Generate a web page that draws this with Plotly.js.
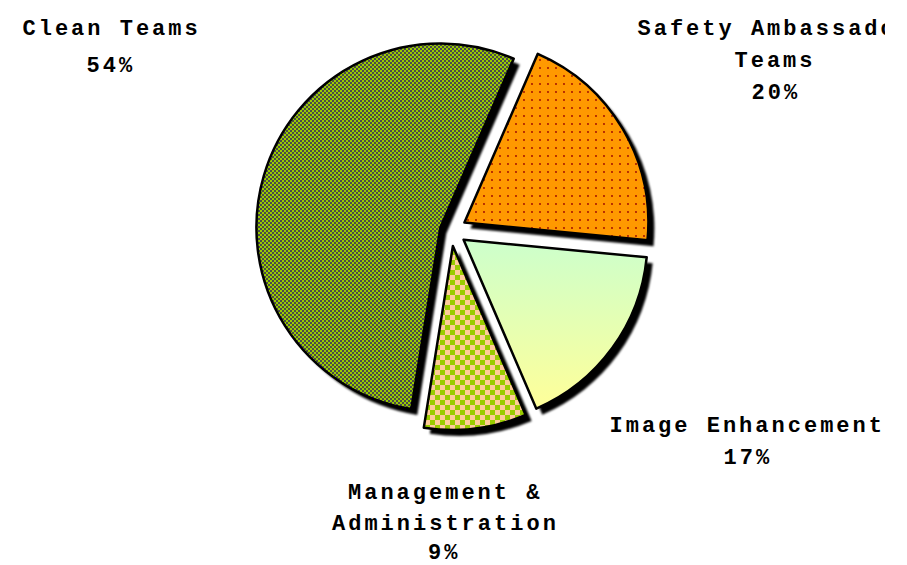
<!DOCTYPE html>
<html><head><meta charset="utf-8">
<script src="https://cdn.plot.ly/plotly-3.0.1.min.js"></script>
<style>
html,body{margin:0;padding:0;background:#fff;}
#chart{width:885px;height:565px;overflow:hidden;}
#chart text.annotation-text{letter-spacing:3px;}
</style></head><body><div id="chart"></div>
<script>
// ---- data ----
const categories = ['Safety Ambassador Teams', 'Image Enhancement', 'Management & Administration', 'Clean Teams'];
const labelLines = [['Safety Ambassador', 'Teams'], ['Image Enhancement'], ['Management &', 'Administration'], ['Clean Teams']];
const shares = [20, 17, 9, 54];

// ---- styles ----
const baseColors = ['#FF9900', '#E6FFB3', '#FFCC99', '#99CC00'];
const patShapes = ['.', '', 'x', 'x'];
const patFg = ['#990000', '#000000', '#99CC00', '#4a4a4a'];
const patBg = ['#FF9900', '#E6FFB3', '#FFCC99', '#99CC00'];
const patSize = [8, 8, 10, 4];
const patSolid = [0.04, 0.3, 0.5, 0.4];
const pulls = [0.085, 0.085, 0.085, 0.06];
// checker fills (cell px, square px, colour A, colour B) applied to slices by index
const checkerFills = {2: [5, 5, '#99CC00', '#FFCC99'], 3: [2, 2, '#4a4a4a', '#99CC00']};

// label line positions in pixels (centre x, centre y), one per text line, last one is the percentage
const linePos = [
  [[775, 30], [775, 62], [776, 93]],
  [[747, 426], [748, 458]],
  [[445, 493], [445, 524], [444, 553]],
  [[111, 30], [111, 67]]
];

const W = 885, H = 565;
const dom = {x: [0.2840, 0.7351], y: [0.2388, 0.9453]};
const sh = {dx: 6 / W, dy: 6 / H};

const shadow = {
  type: 'pie', labels: categories, values: shares, sort: false, direction: 'clockwise',
  rotation: 23.5, pull: pulls, textinfo: 'none', hoverinfo: 'none', showlegend: false,
  marker: {colors: categories.map(() => '#000000'), line: {width: 0}},
  domain: {x: [dom.x[0] + sh.dx, dom.x[1] + sh.dx], y: [dom.y[0] - sh.dy, dom.y[1] - sh.dy]}
};
const main = {
  type: 'pie', labels: categories, values: shares, sort: false, direction: 'clockwise',
  rotation: 23.5, pull: pulls, textinfo: 'none', hoverinfo: 'label+percent', showlegend: false,
  marker: {
    colors: baseColors, line: {color: '#000000', width: 2.5},
    pattern: {shape: patShapes, fgcolor: patFg, bgcolor: patBg, size: patSize, solidity: patSolid, fillmode: 'replace'}
  },
  domain: dom
};

const font = {family: '"Liberation Mono", "Courier New", monospace', size: 22, color: '#000000', weight: 'bold'};
const annotations = [];
categories.forEach((c, i) => {
  const lines = labelLines[i].concat([shares[i] + '%']);
  lines.forEach((t, j) => {
    annotations.push({xref: 'paper', yref: 'paper', x: linePos[i][j][0] / W, y: 1 - linePos[i][j][1] / H,
      xanchor: 'center', yanchor: 'middle', showarrow: false, align: 'center', text: t, font: font});
  });
});

const layout = {
  width: W, height: H, margin: {l: 0, r: 0, t: 0, b: 0},
  paper_bgcolor: '#ffffff', plot_bgcolor: '#ffffff', showlegend: false,
  annotations: annotations
};

Plotly.newPlot('chart', [shadow, main], layout, {displayModeBar: false, staticPlot: true}).then(gd => {
  const svgNS = 'http://www.w3.org/2000/svg';
  const defs = gd.querySelector('.main-svg defs');
  const mk = (tag, attrs) => { const e = document.createElementNS(svgNS, tag); for (const k in attrs) e.setAttribute(k, attrs[k]); return e; };
  // gradient for Image Enhancement slice
  const grad = mk('linearGradient', {id: 'imgGrad', x1: 0, y1: 0, x2: 0, y2: 1});
  grad.appendChild(mk('stop', {offset: 0, 'stop-color': '#CCFFCC'}));
  grad.appendChild(mk('stop', {offset: 1, 'stop-color': '#FFFF99'}));
  defs.appendChild(grad);
  // soft blur for the shadow
  const filt = mk('filter', {id: 'shBlur', x: '-10%', y: '-10%', width: '120%', height: '120%'});
  filt.appendChild(mk('feGaussianBlur', {stdDeviation: 1.3}));
  defs.appendChild(filt);

  const traces = gd.querySelectorAll('.pielayer .trace');
  if (traces[0]) traces[0].setAttribute('filter', 'url(#shBlur)');
  if (traces[1]) {
    const paths = traces[1].querySelectorAll('path.surface');
    const idx = categories.indexOf('Image Enhancement');
    if (paths[idx]) { paths[idx].style.fill = 'url(#imgGrad)'; paths[idx].style.fillOpacity = '1'; }
    Object.keys(checkerFills).forEach(k => {
      const p = paths[+k];
      if (!p) return;
      const [cell, sq, a, b] = checkerFills[k];
      const id = 'chk' + k;
      // align pattern tiles to whole screen pixels
      const m = p.getCTM();
      const ox = m ? Math.round(m.e) - m.e : 0, oy = m ? Math.round(m.f) - m.f : 0;
      const pat = mk('pattern', {id: id, patternUnits: 'userSpaceOnUse', width: 2 * cell, height: 2 * cell,
        patternTransform: 'translate(' + ox + ',' + oy + ')'});
      pat.appendChild(mk('rect', {x: 0, y: 0, width: 2 * cell, height: 2 * cell, fill: b}));
      pat.appendChild(mk('rect', {x: 0, y: 0, width: sq, height: sq, fill: a}));
      pat.appendChild(mk('rect', {x: cell, y: cell, width: sq, height: sq, fill: a}));
      defs.appendChild(pat);
      p.style.fill = 'url(#' + id + ')';
      p.style.fillOpacity = '1';
    });
  }
});
</script></body></html>
